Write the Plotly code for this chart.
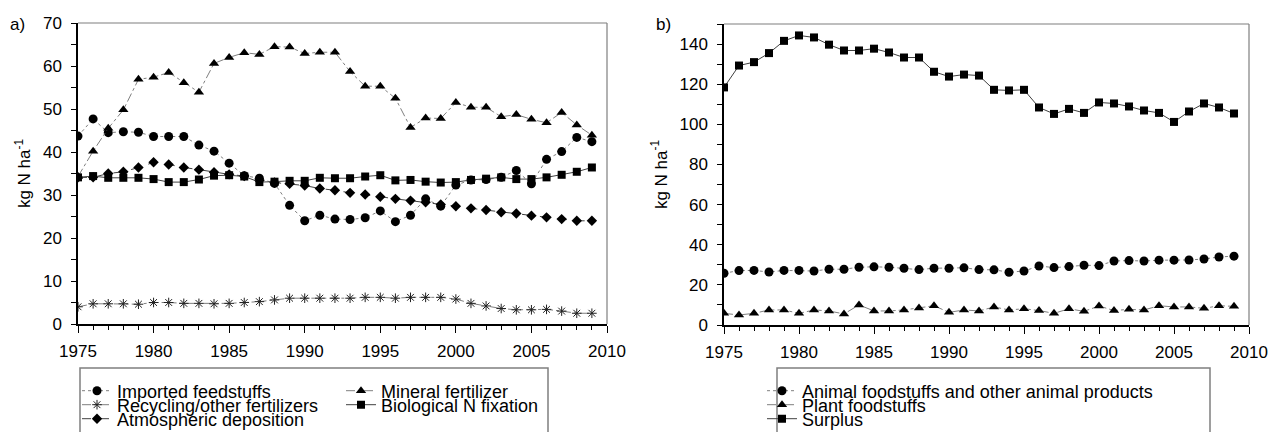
import plotly.graph_objects as go

years = list(range(1975, 2010))

imported = [43.7, 47.7, 44.5, 44.7, 44.6, 43.6, 43.6, 43.6, 41.6, 40.2,
            37.4, 34.5, 33.9, 32.7, 27.6, 24.0, 25.3, 24.4, 24.3, 24.7,
            26.3, 23.8, 25.3, 29.1, 27.4, 32.3, 33.5, 33.6, 34.1, 35.7,
            32.6, 38.3, 40.1, 43.4, 42.4]
mineral = [34.3, 40.2, 45.5, 49.8, 56.9, 57.4, 58.5, 56.1, 53.9, 60.6,
           62.0, 63.1, 62.7, 64.5, 64.4, 62.9, 63.2, 63.2, 58.7, 55.3,
           55.3, 52.5, 45.7, 47.9, 47.8, 51.5, 50.4, 50.4, 48.2, 48.7,
           47.6, 46.8, 49.2, 46.3, 43.9]
recycling = [4.0, 4.7, 4.7, 4.7, 4.6, 5.0, 5.0, 4.8, 4.8, 4.7,
             4.8, 5.0, 5.2, 5.6, 6.0, 6.0, 6.0, 6.0, 6.0, 6.2,
             6.2, 6.0, 6.2, 6.2, 6.2, 5.8, 4.8, 4.2, 3.6, 3.3,
             3.3, 3.4, 3.0, 2.5, 2.5]
biological = [34.1, 34.4, 34.0, 34.0, 34.0, 33.7, 33.0, 33.0, 33.6, 34.5,
              34.6, 34.3, 33.0, 33.1, 33.3, 33.3, 34.0, 33.9, 33.9, 34.3,
              34.6, 33.4, 33.5, 33.1, 32.9, 33.0, 33.5, 33.8, 34.1, 33.7,
              33.7, 34.1, 34.7, 35.4, 36.4]
atmospheric = [34.1, 34.1, 35.0, 35.4, 36.4, 37.6, 37.1, 36.4, 35.9, 35.3,
               34.8, 34.4, 33.4, 32.9, 32.6, 32.2, 31.5, 31.1, 30.5, 30.1,
               29.6, 29.1, 28.7, 28.3, 27.8, 27.4, 26.9, 26.5, 26.0, 25.7,
               25.2, 24.8, 24.4, 24.0, 24.0]

animal = [25.8, 27.1, 27.2, 26.4, 27.2, 27.2, 26.9, 27.8, 27.8, 28.8,
          29.0, 28.8, 28.3, 27.6, 28.3, 28.3, 28.5, 27.6, 27.5, 26.3,
          26.9, 29.4, 28.6, 29.1, 29.8, 29.6, 31.9, 32.1, 31.9, 32.3,
          32.3, 32.4, 32.9, 33.9, 34.3]
plant = [5.8, 5.0, 5.8, 7.5, 7.5, 5.8, 7.5, 7.0, 5.5, 10.0,
         7.0, 7.0, 7.5, 8.5, 9.6, 6.3, 7.5, 7.0, 9.0, 7.5,
         8.1, 7.2, 5.8, 8.1, 6.8, 9.5, 7.2, 7.8, 7.5, 9.6,
         9.0, 9.0, 8.3, 9.6, 9.3]
surplus = [118.4, 129.3, 131.0, 135.5, 141.6, 144.3, 143.3, 139.7, 136.8, 136.8,
           137.7, 135.8, 133.3, 133.3, 126.2, 123.8, 124.8, 124.3, 117.2, 116.9,
           117.2, 108.4, 105.2, 107.7, 105.7, 110.9, 110.4, 108.9, 106.9, 105.7,
           101.2, 106.4, 110.4, 108.4, 105.4]

W, H = 1271, 432
FONT = "Liberation Sans, Arial, sans-serif"
GREY = "#7f7f7f"
DARK = "#404040"

fig = go.Figure()

def px_x(p):
    return p / W

def px_y(p):
    return 1 - p / H

# (name, y, xaxis, yaxis, symbol, size, line colour, dash, legend id, legend x px, legend y px)
series = [
    ("Imported feedstuffs", imported, "x", "y", "circle", 9, GREY, "dot", "legend", 77, 391),
    ("Recycling/other fertilizers", recycling, "x", "y", "asterisk-open", 8, GREY, "dashdot", "legend2", 77, 405),
    ("Atmospheric deposition", atmospheric, "x", "y", "diamond", 8, DARK, "dash", "legend3", 77, 419),
    ("Mineral fertilizer", mineral, "x", "y", "triangle-up", 9, GREY, "dashdot", "legend4", 341, 391),
    ("Biological N fixation", biological, "x", "y", "square", 8, DARK, "solid", "legend5", 341, 405),
    ("Animal foodstuffs and other animal products", animal, "x2", "y2", "circle", 9, GREY, "dot", "legend6", 762, 391),
    ("Plant foodstuffs", plant, "x2", "y2", "triangle-up", 9, GREY, "dashdot", "legend7", 762, 405),
    ("Surplus", surplus, "x2", "y2", "square", 8, DARK, "solid", "legend8", 762, 419),
]

legends = {}
for name, vals, xa, ya, sym, size, lc, dash, lg, lx, ly in series:
    marker = dict(symbol=sym, size=size, color="black")
    if sym == "asterisk-open":
        marker = dict(symbol=sym, size=size, color="#222222", line=dict(color="#222222", width=1))
    fig.add_trace(go.Scatter(
        x=years, y=vals, name=name, mode="lines+markers",
        xaxis=xa, yaxis=ya,
        line=dict(color=lc, width=1, dash=dash),
        marker=marker, legend=lg,
    ))
    legends[lg] = dict(
        x=px_x(lx), y=px_y(ly), xanchor="left", yanchor="middle",
        bgcolor="rgba(0,0,0,0)", borderwidth=0,
        font=dict(family=FONT, size=18, color="black"),
        itemwidth=30, orientation="v",
    )

tickfont = dict(family=FONT, size=17, color="black")

def xaxis_cfg(x0, x1, anchor):
    return dict(
        domain=[px_x(x0), px_x(x1)], anchor=anchor, range=[1975, 2010],
        tick0=1975, dtick=5, ticks="outside", ticklen=7, tickcolor="black",
        showline=True, linecolor="black", linewidth=1.5, showgrid=False,
        zeroline=False, tickfont=tickfont, ticklabelstandoff=4, automargin=False,
        minor=dict(ticks="outside", ticklen=4, dtick=1, tick0=1975,
                   tickcolor="black", showgrid=False),
    )

def yaxis_cfg(y0, y1, anchor, rng, dt):
    return dict(
        domain=[px_y(y1), px_y(y0)], anchor=anchor, range=rng,
        tick0=0, dtick=dt, ticks="outside", ticklen=5, tickcolor="black",
        showline=True, linecolor="black", linewidth=1.5, showgrid=False,
        zeroline=False, tickfont=tickfont, ticklabelstandoff=6, automargin=False,
        minor=dict(ticks="outside", ticklen=5, dtick=dt / 2, tick0=0,
                   tickcolor="black", showgrid=False),
        title=dict(text="kg N ha<sup>-1</sup>", font=dict(family=FONT, size=17, color="black"),
                   standoff=8),
    )

fig.update_layout(
    width=W, height=H,
    margin=dict(l=0, r=0, t=0, b=0, pad=0, autoexpand=False),
    paper_bgcolor="white", plot_bgcolor="white",
    showlegend=True,
    xaxis=xaxis_cfg(78, 607, "y"),
    yaxis=yaxis_cfg(23, 324, "x", [0, 70], 10),
    xaxis2=xaxis_cfg(724, 1249, "y2"),
    yaxis2=yaxis_cfg(24, 325, "x2", [0, 150], 20),
    **legends,
)

# grey top/right frame lines of each panel and legend boxes
shapes = []
for xr, yr in (("x domain", "y domain"), ("x2 domain", "y2 domain")):
    shapes.append(dict(type="line", xref=xr, yref=yr, x0=0, x1=1, y0=1, y1=1,
                       line=dict(color=GREY, width=1.2)))
    shapes.append(dict(type="line", xref=xr, yref=yr, x0=1, x1=1, y0=0, y1=1,
                       line=dict(color=GREY, width=1.2)))
for bx0, bx1 in ((80, 548), (777, 1210)):
    shapes.append(dict(type="rect", xref="paper", yref="paper",
                       x0=px_x(bx0), x1=px_x(bx1), y0=px_y(445), y1=px_y(368),
                       line=dict(color=GREY, width=1.5), fillcolor="rgba(0,0,0,0)"))
fig.update_layout(shapes=shapes)

fig.add_annotation(text="a)", x=px_x(8), y=px_y(25), xref="paper", yref="paper",
                   xanchor="left", yanchor="middle", showarrow=False,
                   font=dict(family=FONT, size=17, color="black"))
fig.add_annotation(text="b)", x=px_x(654), y=px_y(25), xref="paper", yref="paper",
                   xanchor="left", yanchor="middle", showarrow=False,
                   font=dict(family=FONT, size=17, color="black"))

fig.write_html("out.html", config={"displayModeBar": False},
               post_script="document.body.style.margin='0';")
